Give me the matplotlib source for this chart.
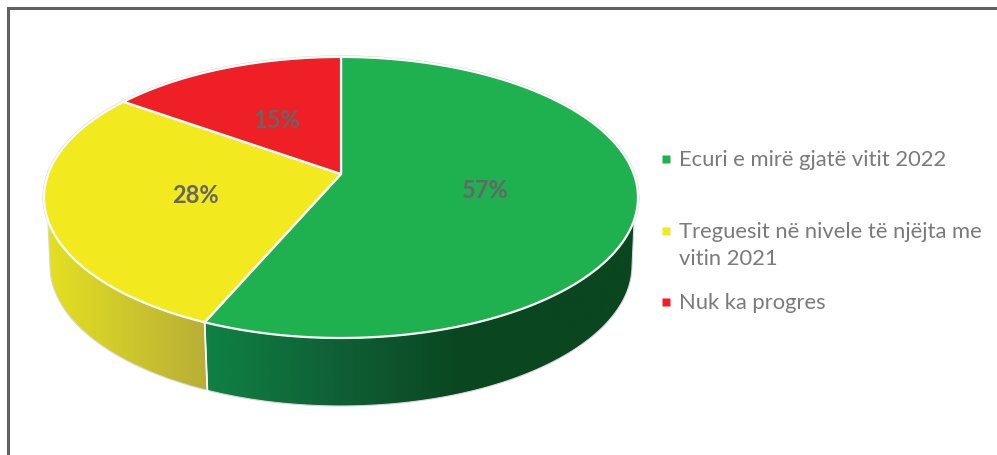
import numpy as np
from matplotlib import pyplot as plt
from matplotlib.patches import Polygon
from matplotlib.colors import LinearSegmentedColormap

plt.rcParams['font.family'] = ['Lato', 'DejaVu Sans']

categories = ['Ecuri e mirë gjatë vitit 2022',
              'Treguesit në nivele të njëjta me\nvitin 2021',
              'Nuk ka progres']
shares = [56.45, 28.4, 15.15]
labels = ['57%', '28%', '15%']
top_colors = ['#1fb150', '#f2e91e', '#ef1f26']
side_stops = [
    [(0.0, '#0f8244'), (0.3, '#0f6036'), (0.6, '#0a4620'), (1.0, '#0a4620')],
    [(0.0, '#e4e021'), (1.0, '#b8ae37')],
]

CX, CY = 341, 174
A, B, K = 292.8, 136.6, 0.167
DEPTH = 68
TOP_EDGE = 18.6  # how far past 90/270 deg the wall leaves the top rim
LOW_EDGE = 11.4  # same for the lower rim


def project(theta, r=1.0, a=A, dy=0):
    """theta in degrees, clockwise from the top"""
    t = np.radians(theta)
    u, v = r * np.sin(t), r * np.cos(t)
    w = 1 + K * v
    return CX + a * u / w, CY + dy - B * v / w


fig = plt.figure(figsize=(9.97, 4.55), dpi=100)
ax = fig.add_axes([0, 0, 1, 1])

edges = 360 * np.cumsum([0] + shares) / sum(shares)

# side walls, only green and yellow ones show at the front
for i in range(2):
    lo_t, hi_t = max(edges[i], 90 + TOP_EDGE), min(edges[i + 1], 270 - TOP_EDGE)
    lo_b, hi_b = max(edges[i], 90 + LOW_EDGE), min(edges[i + 1], 270 - LOW_EDGE)
    xt, yt = project(np.linspace(lo_t, hi_t, 200))
    xb, yb = project(np.linspace(lo_b, hi_b, 200), a=A * 0.98, dy=DEPTH)
    pts = np.r_[np.c_[xt, yt], np.c_[xb, yb][::-1]]
    cmap = LinearSegmentedColormap.from_list('side%d' % i, side_stops[i])
    im = ax.imshow(np.linspace(0, 1, 256)[None, :], cmap=cmap, aspect='auto',
                   extent=[pts[:, 0].min(), pts[:, 0].max(), 455, 0], zorder=1)
    wall = Polygon(pts, closed=True, fc='none', ec='#d8d8d8', lw=0.8, zorder=2)
    ax.add_patch(wall)
    im.set_clip_path(wall)

# white seam between the two walls
sx, sy = project(edges[1])
sx2, sy2 = project(edges[1], a=A * 0.98, dy=DEPTH)
ax.plot([sx, sx2], [sy, sy2], color='white', lw=1.3, zorder=3)

# grey outline around the back of the top, the front rim stays white
xo, yo = project(np.linspace(270 - TOP_EDGE, 450 + TOP_EDGE, 400))
ax.plot(xo, yo, color='#cfcfcf', lw=2.2, zorder=3)
for i in range(len(shares)):
    xt, yt = project(np.linspace(edges[i], edges[i + 1], 200))
    pts = np.r_[[[CX, CY]], np.c_[xt, yt]]
    ax.add_patch(Polygon(pts, closed=True, fc=top_colors[i], ec='white', lw=1.6,
                         joinstyle='round', zorder=4))
    mx, my = project((edges[i] + edges[i + 1]) / 2, r=0.5)
    ax.text(mx - 1.5, my + 3, labels[i], color='#666666', fontsize=17, fontweight='bold',
            ha='center', va='center', zorder=5)

# legend
legend_y = [160, 232, 303]
for name, col, y in zip(categories, top_colors, legend_y):
    ax.plot([665.5], [y - 1], marker='s', ms=5.5, color=col, mec='none', ls='none')
    ax.text(679, y, name.split('\n')[0], color='#7a7a7a', fontsize=15.8,
            ha='left', va='center')
    if '\n' in name:
        ax.text(679, y + 27, name.split('\n')[1], color='#7a7a7a', fontsize=15.8,
                ha='left', va='center')

# frame, open at the right and the bottom
ax.plot([8, 8, 997], [455, 8, 8], color='#616161', lw=2.2, solid_joinstyle='miter')

ax.set_xlim(0, 997)
ax.set_ylim(455, 0)
ax.axis('off')
fig.savefig('out.png', dpi=100, facecolor='white')
